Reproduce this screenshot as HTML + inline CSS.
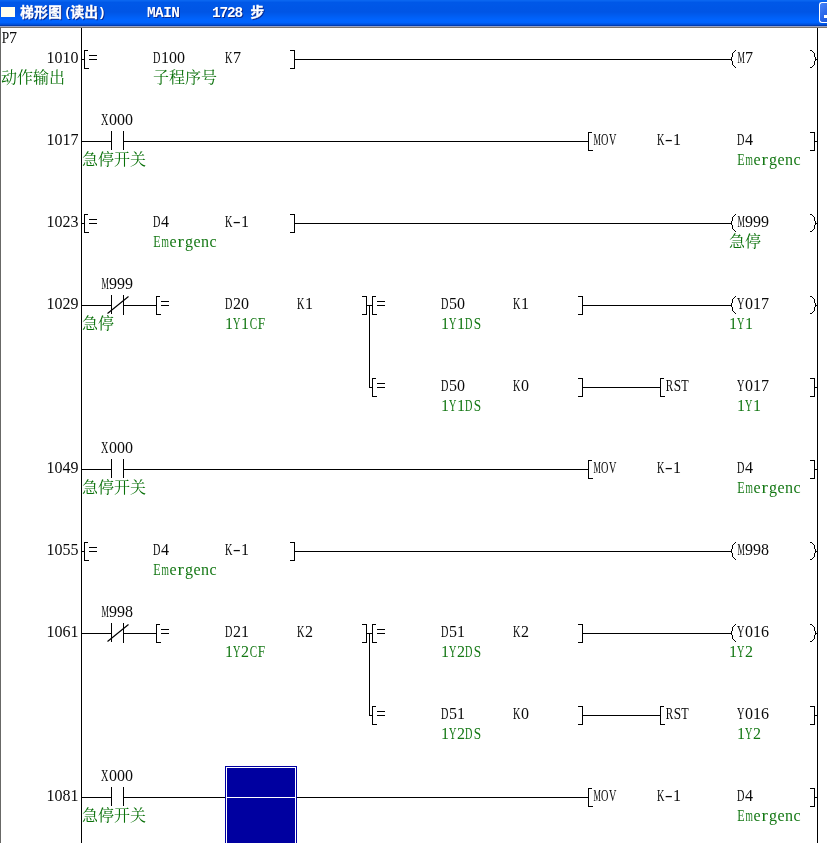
<!DOCTYPE html>
<html lang="zh"><head><meta charset="utf-8"><title>梯形图(读出) MAIN 1728 步</title>
<style>
html,body{margin:0;padding:0}
body{width:827px;height:843px;overflow:hidden;background:#fff;position:relative;font-family:"Liberation Serif",serif}
#tb{position:absolute;left:0;top:0;width:827px;height:25px;background:linear-gradient(to bottom,#0a66f0 0,#0a66f0 1px,#0058e8 2px,#0055e5 12px,#005ff5 17px,#0064ff 20px,#0062fb 23px,#0050dc 24px,#0050dc 25px)}
#tb1{position:absolute;left:0;top:25px;width:827px;height:1px;background:#003cb0}
#tb2{position:absolute;left:0;top:26px;width:827px;height:1px;background:#98a2c6}
#tb3{position:absolute;left:0;top:27px;width:827px;height:1px;background:#7c746c}
#lb{position:absolute;left:0;top:27px;width:1px;height:816px;background:#686866}
#ico{position:absolute;left:1px;top:7px;width:14px;height:10px;background:#ffffee}
#min{position:absolute;left:819px;top:2px;width:7px;height:19px;border:1px solid #fff;border-right:0;border-radius:3px 0 0 3px;overflow:hidden;background:linear-gradient(135deg,#4a86f8 0,#2c68ea 60%,#1f58dc 100%)}
#min b{position:absolute;left:4px;top:12px;width:8px;height:3px;background:#fff}
.tt{position:absolute;top:5.5px;height:16px;line-height:16px;font-size:15px;font-weight:bold;color:#fff;white-space:pre;text-shadow:1px 1px 0 #0a2a90;font-family:"Liberation Mono",monospace;transform:scaleX(.96);transform-origin:0 0;letter-spacing:-.6px}
.t{position:absolute;height:16px;line-height:16px;font-size:16px;color:#0a0a0a;white-space:pre}
.g{color:#157815}
.t i{display:inline-block;font-style:normal}
#cur{position:absolute;left:225px;top:766px;width:72px;height:77px;background:#0000a0;box-sizing:border-box;border:1px solid #0000a0;border-bottom:0}
#cur:before{content:"";position:absolute;left:0;top:0;right:0;bottom:0;border:1px solid #fff;border-bottom:0}
#cur:after{content:"";position:absolute;left:1px;right:1px;top:30px;height:1px;background:#fff}
svg{position:absolute;left:0;top:0}
#tx,#tt{position:absolute;left:0;top:0;width:827px;height:843px;will-change:transform}
#tt{height:25px}
.c2d{margin:0 1.34px;transform:scaleX(1.5)}.c43{margin:0 -1.34px;transform:scaleX(0.693)}.c44{margin:0 -1.78px;transform:scaleX(0.640)}.c45{margin:0 -0.89px;transform:scaleX(0.757)}.c46{margin:0 -0.45px;transform:scaleX(0.832)}.c4b{margin:0 -1.78px;transform:scaleX(0.640)}.c4d{margin:0 -3.11px;transform:scaleX(0.520)}.c4f{margin:0 -1.78px;transform:scaleX(0.640)}.c50{margin:0 -0.45px;transform:scaleX(0.832)}.c52{margin:0 -1.34px;transform:scaleX(0.693)}.c53{margin:0 -0.45px;transform:scaleX(0.832)}.c54{margin:0 -0.89px;transform:scaleX(0.757)}.c56{margin:0 -1.78px;transform:scaleX(0.640)}.c58{margin:0 -1.78px;transform:scaleX(0.640)}.c59{margin:0 -1.78px;transform:scaleX(0.640)}.c63{margin:0 0.45px}.c65{margin:0 0.45px}.c6d{margin:0 -2.22px;transform:scaleX(0.595)}.c72{margin:0 1.34px;transform:scaleX(1.2)}
</style></head><body>
<div id="tb"></div><div id="tb1"></div><div id="tb2"></div><div id="tb3"></div><div id="lb"></div>
<div id="ico"></div><div id="min"><b></b></div>
<div id="tt"><span class="tt" style="left:64px;font-size:13.5px;top:4.5px">(</span><span class="tt" style="left:98px;font-size:13.5px;top:4.5px">)</span>
<span class="tt" style="left:146.5px">MAIN</span><span class="tt" style="left:212px;letter-spacing:-1.19px">1728</span></div>
<svg width="827" height="843" viewBox="0 0 827 843" role="img" aria-label="ladder diagram">
<path d="M81.5 28V843M817.5 28V843M82 59.5H84M84.5 50V69M84 50.5H88M84 68.5H89M89 55.5H97M89 59.5H97M294.5 50V69M290 50.5H295M290 68.5H295M295 59.5H731M816 59.5H817M82 141.5H111M111.5 131V150M123.5 131V150M124 141.5H588M588.5 132V151M588 132.5H592M588 150.5H593M814.5 132V151M810 132.5H815M810 150.5H815M815 141.5H817M82 223.5H84M84.5 214V233M84 214.5H88M84 232.5H89M89 219.5H97M89 223.5H97M294.5 214V233M290 214.5H295M290 232.5H295M295 223.5H731M816 223.5H817M82 305.5H111M111.5 295V314M123.5 295V315M124 305.5H156M156.5 296V315M156 296.5H160M156 314.5H161M161 301.5H169M161 305.5H169M366.5 296V315M362 296.5H367M362 314.5H367M367 305.5H372M369.5 305V388M369 387.5H372M372.5 296V315M372 296.5H376M372 314.5H377M377 301.5H385M377 305.5H385M582.5 296V315M578 296.5H583M578 314.5H583M372.5 378V397M372 378.5H376M372 396.5H377M377 383.5H385M377 387.5H385M582.5 378V397M578 378.5H583M578 396.5H583M583 305.5H731M816 305.5H817M583 387.5H660M660.5 378V397M660 378.5H664M660 396.5H665M814.5 378V397M810 378.5H815M810 396.5H815M815 387.5H817M82 469.5H111M111.5 459V478M123.5 459V478M124 469.5H588M588.5 460V479M588 460.5H592M588 478.5H593M814.5 460V479M810 460.5H815M810 478.5H815M815 469.5H817M82 551.5H84M84.5 542V561M84 542.5H88M84 560.5H89M89 547.5H97M89 551.5H97M294.5 542V561M290 542.5H295M290 560.5H295M295 551.5H731M816 551.5H817M82 633.5H111M111.5 623V642M123.5 623V643M124 633.5H156M156.5 624V643M156 624.5H160M156 642.5H161M161 629.5H169M161 633.5H169M366.5 624V643M362 624.5H367M362 642.5H367M367 633.5H372M369.5 633V716M369 715.5H372M372.5 624V643M372 624.5H376M372 642.5H377M377 629.5H385M377 633.5H385M582.5 624V643M578 624.5H583M578 642.5H583M372.5 706V725M372 706.5H376M372 724.5H377M377 711.5H385M377 715.5H385M582.5 706V725M578 706.5H583M578 724.5H583M583 633.5H731M816 633.5H817M583 715.5H660M660.5 706V725M660 706.5H664M660 724.5H665M814.5 706V725M810 706.5H815M810 724.5H815M815 715.5H817M82 797.5H111M111.5 787V806M123.5 787V806M124 797.5H588M588.5 788V807M588 788.5H592M588 806.5H593M814.5 788V807M810 788.5H815M810 806.5H815M815 797.5H817" fill="none" stroke="#000" stroke-width="1" shape-rendering="crispEdges"/>
<path d="M735 50h1v1h-1zM734 51h1v1h-1zM733 52h1v1h-1zM732 53h1v1h-1zM732 54h1v1h-1zM732 55h1v1h-1zM732 56h1v1h-1zM731 57h1v1h-1zM731 58h1v1h-1zM731 59h1v1h-1zM731 60h1v1h-1zM732 61h1v1h-1zM732 62h1v1h-1zM732 63h1v1h-1zM732 64h1v1h-1zM733 65h1v1h-1zM734 66h1v1h-1zM735 67h1v1h-1zM810 50h1v1h-1zM811 50h1v1h-1zM812 51h1v1h-1zM813 52h1v1h-1zM814 53h1v1h-1zM814 54h1v1h-1zM814 55h1v1h-1zM814 56h1v1h-1zM815 57h1v1h-1zM815 58h1v1h-1zM815 59h1v1h-1zM815 60h1v1h-1zM814 61h1v1h-1zM814 62h1v1h-1zM814 63h1v1h-1zM814 64h1v1h-1zM813 65h1v1h-1zM812 66h1v1h-1zM811 67h1v1h-1zM810 67h1v1h-1zM735 214h1v1h-1zM734 215h1v1h-1zM733 216h1v1h-1zM732 217h1v1h-1zM732 218h1v1h-1zM732 219h1v1h-1zM732 220h1v1h-1zM731 221h1v1h-1zM731 222h1v1h-1zM731 223h1v1h-1zM731 224h1v1h-1zM732 225h1v1h-1zM732 226h1v1h-1zM732 227h1v1h-1zM732 228h1v1h-1zM733 229h1v1h-1zM734 230h1v1h-1zM735 231h1v1h-1zM810 214h1v1h-1zM811 214h1v1h-1zM812 215h1v1h-1zM813 216h1v1h-1zM814 217h1v1h-1zM814 218h1v1h-1zM814 219h1v1h-1zM814 220h1v1h-1zM815 221h1v1h-1zM815 222h1v1h-1zM815 223h1v1h-1zM815 224h1v1h-1zM814 225h1v1h-1zM814 226h1v1h-1zM814 227h1v1h-1zM814 228h1v1h-1zM813 229h1v1h-1zM812 230h1v1h-1zM811 231h1v1h-1zM810 231h1v1h-1zM735 296h1v1h-1zM734 297h1v1h-1zM733 298h1v1h-1zM732 299h1v1h-1zM732 300h1v1h-1zM732 301h1v1h-1zM732 302h1v1h-1zM731 303h1v1h-1zM731 304h1v1h-1zM731 305h1v1h-1zM731 306h1v1h-1zM732 307h1v1h-1zM732 308h1v1h-1zM732 309h1v1h-1zM732 310h1v1h-1zM733 311h1v1h-1zM734 312h1v1h-1zM735 313h1v1h-1zM810 296h1v1h-1zM811 296h1v1h-1zM812 297h1v1h-1zM813 298h1v1h-1zM814 299h1v1h-1zM814 300h1v1h-1zM814 301h1v1h-1zM814 302h1v1h-1zM815 303h1v1h-1zM815 304h1v1h-1zM815 305h1v1h-1zM815 306h1v1h-1zM814 307h1v1h-1zM814 308h1v1h-1zM814 309h1v1h-1zM814 310h1v1h-1zM813 311h1v1h-1zM812 312h1v1h-1zM811 313h1v1h-1zM810 313h1v1h-1zM735 542h1v1h-1zM734 543h1v1h-1zM733 544h1v1h-1zM732 545h1v1h-1zM732 546h1v1h-1zM732 547h1v1h-1zM732 548h1v1h-1zM731 549h1v1h-1zM731 550h1v1h-1zM731 551h1v1h-1zM731 552h1v1h-1zM732 553h1v1h-1zM732 554h1v1h-1zM732 555h1v1h-1zM732 556h1v1h-1zM733 557h1v1h-1zM734 558h1v1h-1zM735 559h1v1h-1zM810 542h1v1h-1zM811 542h1v1h-1zM812 543h1v1h-1zM813 544h1v1h-1zM814 545h1v1h-1zM814 546h1v1h-1zM814 547h1v1h-1zM814 548h1v1h-1zM815 549h1v1h-1zM815 550h1v1h-1zM815 551h1v1h-1zM815 552h1v1h-1zM814 553h1v1h-1zM814 554h1v1h-1zM814 555h1v1h-1zM814 556h1v1h-1zM813 557h1v1h-1zM812 558h1v1h-1zM811 559h1v1h-1zM810 559h1v1h-1zM735 624h1v1h-1zM734 625h1v1h-1zM733 626h1v1h-1zM732 627h1v1h-1zM732 628h1v1h-1zM732 629h1v1h-1zM732 630h1v1h-1zM731 631h1v1h-1zM731 632h1v1h-1zM731 633h1v1h-1zM731 634h1v1h-1zM732 635h1v1h-1zM732 636h1v1h-1zM732 637h1v1h-1zM732 638h1v1h-1zM733 639h1v1h-1zM734 640h1v1h-1zM735 641h1v1h-1zM810 624h1v1h-1zM811 624h1v1h-1zM812 625h1v1h-1zM813 626h1v1h-1zM814 627h1v1h-1zM814 628h1v1h-1zM814 629h1v1h-1zM814 630h1v1h-1zM815 631h1v1h-1zM815 632h1v1h-1zM815 633h1v1h-1zM815 634h1v1h-1zM814 635h1v1h-1zM814 636h1v1h-1zM814 637h1v1h-1zM814 638h1v1h-1zM813 639h1v1h-1zM812 640h1v1h-1zM811 641h1v1h-1zM810 641h1v1h-1z" fill="#000" shape-rendering="crispEdges"/>
<path d="M107.5 313.5L128.5 296.5M107.5 641.5L128.5 624.5" fill="none" stroke="#000" stroke-width="1.15"/>
<g fill="#087008" font-size="16" font-family="&quot;Liberation Serif&quot;,&quot;Noto Serif CJK SC&quot;,serif">
<text x="1 17 33 49" y="83">动作输出</text>
<text x="153 169 185 201" y="83">子程序号</text>
<text x="82 98 114 130" y="165">急停开关</text>
<text x="729 745" y="247">急停</text>
<text x="82 98" y="329">急停</text>
<text x="82 98 114 130" y="493">急停开关</text>
<text x="82 98 114 130" y="821">急停开关</text>
</g>
<g fill="#0a2a90" stroke="#0a2a90" stroke-width="0.38" font-size="13.6" font-weight="bold" font-family="&quot;Liberation Sans&quot;,&quot;Noto Sans CJK SC&quot;,sans-serif">
<text x="21.3 35.3 49.3" y="18">梯形图</text>
<text x="71.5 85.5" y="18">读出</text>
<text x="251.5" y="18">步</text>
</g>
<g fill="#fff" stroke="#fff" stroke-width="0.38" font-size="13.6" font-weight="bold" font-family="&quot;Liberation Sans&quot;,&quot;Noto Sans CJK SC&quot;,sans-serif">
<text x="20.3 34.3 48.3" y="17">梯形图</text>
<text x="70.5 84.5" y="17">读出</text>
<text x="250.5" y="17">步</text>
</g>
</svg>
<div id="cur"></div>
<div id="tx">
<span class="t" style="left:1px;top:29.6px"><i class=c50>P</i>7</span>
<span class="t" style="left:46.5px;top:49.6px">1010</span>
<span class="t" style="left:153px;top:49.6px"><i class=c44>D</i>100</span>
<span class="t" style="left:225px;top:49.6px"><i class=c4b>K</i>7</span>
<span class="t" style="left:737px;top:49.6px"><i class=c4d>M</i>7</span>
<span class="t" style="left:46.5px;top:131.6px">1017</span>
<span class="t" style="left:593px;top:131.6px"><i class=c4d>M</i><i class=c4f>O</i><i class=c56>V</i></span>
<span class="t" style="left:657px;top:131.6px"><i class=c4b>K</i><i class=c2d>-</i>1</span>
<span class="t" style="left:737px;top:131.6px"><i class=c44>D</i>4</span>
<span class="t" style="left:101px;top:111.6px"><i class=c58>X</i>000</span>
<span class="t g" style="left:737px;top:151.6px"><i class=c45>E</i><i class=c6d>m</i><i class=c65>e</i><i class=c72>r</i>g<i class=c65>e</i>n<i class=c63>c</i></span>
<span class="t" style="left:46.5px;top:213.6px">1023</span>
<span class="t" style="left:153px;top:213.6px"><i class=c44>D</i>4</span>
<span class="t" style="left:225px;top:213.6px"><i class=c4b>K</i><i class=c2d>-</i>1</span>
<span class="t" style="left:737px;top:213.6px"><i class=c4d>M</i>999</span>
<span class="t g" style="left:153px;top:233.6px"><i class=c45>E</i><i class=c6d>m</i><i class=c65>e</i><i class=c72>r</i>g<i class=c65>e</i>n<i class=c63>c</i></span>
<span class="t" style="left:46.5px;top:295.6px">1029</span>
<span class="t" style="left:101px;top:275.6px"><i class=c4d>M</i>999</span>
<span class="t" style="left:225px;top:295.6px"><i class=c44>D</i>20</span>
<span class="t" style="left:297px;top:295.6px"><i class=c4b>K</i>1</span>
<span class="t g" style="left:225px;top:315.6px">1<i class=c59>Y</i>1<i class=c43>C</i><i class=c46>F</i></span>
<span class="t" style="left:441px;top:295.6px"><i class=c44>D</i>50</span>
<span class="t" style="left:513px;top:295.6px"><i class=c4b>K</i>1</span>
<span class="t g" style="left:441px;top:315.6px">1<i class=c59>Y</i>1<i class=c44>D</i><i class=c53>S</i></span>
<span class="t" style="left:441px;top:377.6px"><i class=c44>D</i>50</span>
<span class="t" style="left:513px;top:377.6px"><i class=c4b>K</i>0</span>
<span class="t g" style="left:441px;top:397.6px">1<i class=c59>Y</i>1<i class=c44>D</i><i class=c53>S</i></span>
<span class="t" style="left:737px;top:295.6px"><i class=c59>Y</i>017</span>
<span class="t g" style="left:729px;top:315.6px">1<i class=c59>Y</i>1</span>
<span class="t" style="left:665px;top:377.6px"><i class=c52>R</i><i class=c53>S</i><i class=c54>T</i></span>
<span class="t" style="left:737px;top:377.6px"><i class=c59>Y</i>017</span>
<span class="t g" style="left:737px;top:397.6px">1<i class=c59>Y</i>1</span>
<span class="t" style="left:46.5px;top:459.6px">1049</span>
<span class="t" style="left:593px;top:459.6px"><i class=c4d>M</i><i class=c4f>O</i><i class=c56>V</i></span>
<span class="t" style="left:657px;top:459.6px"><i class=c4b>K</i><i class=c2d>-</i>1</span>
<span class="t" style="left:737px;top:459.6px"><i class=c44>D</i>4</span>
<span class="t" style="left:101px;top:439.6px"><i class=c58>X</i>000</span>
<span class="t g" style="left:737px;top:479.6px"><i class=c45>E</i><i class=c6d>m</i><i class=c65>e</i><i class=c72>r</i>g<i class=c65>e</i>n<i class=c63>c</i></span>
<span class="t" style="left:46.5px;top:541.6px">1055</span>
<span class="t" style="left:153px;top:541.6px"><i class=c44>D</i>4</span>
<span class="t" style="left:225px;top:541.6px"><i class=c4b>K</i><i class=c2d>-</i>1</span>
<span class="t" style="left:737px;top:541.6px"><i class=c4d>M</i>998</span>
<span class="t g" style="left:153px;top:561.6px"><i class=c45>E</i><i class=c6d>m</i><i class=c65>e</i><i class=c72>r</i>g<i class=c65>e</i>n<i class=c63>c</i></span>
<span class="t" style="left:46.5px;top:623.6px">1061</span>
<span class="t" style="left:101px;top:603.6px"><i class=c4d>M</i>998</span>
<span class="t" style="left:225px;top:623.6px"><i class=c44>D</i>21</span>
<span class="t" style="left:297px;top:623.6px"><i class=c4b>K</i>2</span>
<span class="t g" style="left:225px;top:643.6px">1<i class=c59>Y</i>2<i class=c43>C</i><i class=c46>F</i></span>
<span class="t" style="left:441px;top:623.6px"><i class=c44>D</i>51</span>
<span class="t" style="left:513px;top:623.6px"><i class=c4b>K</i>2</span>
<span class="t g" style="left:441px;top:643.6px">1<i class=c59>Y</i>2<i class=c44>D</i><i class=c53>S</i></span>
<span class="t" style="left:441px;top:705.6px"><i class=c44>D</i>51</span>
<span class="t" style="left:513px;top:705.6px"><i class=c4b>K</i>0</span>
<span class="t g" style="left:441px;top:725.6px">1<i class=c59>Y</i>2<i class=c44>D</i><i class=c53>S</i></span>
<span class="t" style="left:737px;top:623.6px"><i class=c59>Y</i>016</span>
<span class="t g" style="left:729px;top:643.6px">1<i class=c59>Y</i>2</span>
<span class="t" style="left:665px;top:705.6px"><i class=c52>R</i><i class=c53>S</i><i class=c54>T</i></span>
<span class="t" style="left:737px;top:705.6px"><i class=c59>Y</i>016</span>
<span class="t g" style="left:737px;top:725.6px">1<i class=c59>Y</i>2</span>
<span class="t" style="left:46.5px;top:787.6px">1081</span>
<span class="t" style="left:593px;top:787.6px"><i class=c4d>M</i><i class=c4f>O</i><i class=c56>V</i></span>
<span class="t" style="left:657px;top:787.6px"><i class=c4b>K</i><i class=c2d>-</i>1</span>
<span class="t" style="left:737px;top:787.6px"><i class=c44>D</i>4</span>
<span class="t" style="left:101px;top:767.6px"><i class=c58>X</i>000</span>
<span class="t g" style="left:737px;top:807.6px"><i class=c45>E</i><i class=c6d>m</i><i class=c65>e</i><i class=c72>r</i>g<i class=c65>e</i>n<i class=c63>c</i></span>
</div>
</body></html>
